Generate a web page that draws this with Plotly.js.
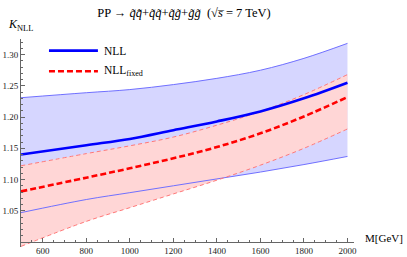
<!DOCTYPE html>
<html>
<head>
<meta charset="utf-8">
<script src="https://cdn.plot.ly/plotly-3.0.1.min.js"></script>
<style>html,body{margin:0;padding:0;background:#fff;}#chart{width:407px;height:257px;}</style>
</head>
<body>
<div id="chart"></div>
<script>
// Invariant mass M [GeV]
var mass = [500, 800, 1000, 1200, 1400, 1600, 1800, 2000];
// K-factor, NLL (central, upper, lower)
var nll   = [1.140, 1.155, 1.165, 1.179, 1.193, 1.209, 1.230, 1.255];
var nllUp = [1.231, 1.239, 1.244, 1.252, 1.262, 1.275, 1.294, 1.318];
var nllLo = [1.047, 1.068, 1.079, 1.090, 1.101, 1.112, 1.124, 1.137];
// K-factor, NLL fixed (central, upper, lower)
var fix   = [1.081, 1.103, 1.118, 1.134, 1.152, 1.174, 1.201, 1.232];
var fixUp = [1.122, 1.1415, 1.154, 1.168, 1.187, 1.209, 1.236, 1.268];
var fixLo = [0.993, 1.033, 1.055, 1.077, 1.099, 1.123, 1.150, 1.181];
var xTicks = [600, 800, 1000, 1200, 1400, 1600, 1800, 2000];
var yTicks = [1.05, 1.10, 1.15, 1.20, 1.25, 1.30];
var yTickText = ['1.05', '1.10', '1.15', '1.20', '1.25', '1.30'];

var serif = '"Times New Roman", "Liberation Serif", "DejaVu Serif", serif';
var blueFill = '#D6D6FF', redFill = '#FFD6D6';

var traces = [
  {x: mass, y: nllLo, mode: 'lines', line: {width: 0, shape: 'spline'}, hoverinfo: 'skip'},
  {x: mass, y: nllUp, mode: 'lines', line: {width: 0, shape: 'spline'}, fill: 'tonexty', fillcolor: blueFill, hoverinfo: 'skip'},
  {x: mass, y: fixLo, mode: 'lines', line: {width: 0, shape: 'spline'}, hoverinfo: 'skip'},
  {x: mass, y: fixUp, mode: 'lines', line: {width: 0, shape: 'spline'}, fill: 'tonexty', fillcolor: redFill, hoverinfo: 'skip'},
  {x: mass, y: nllLo, mode: 'lines', line: {width: 1, color: '#7070FF', shape: 'spline'}},
  {x: mass, y: nllUp, mode: 'lines', line: {width: 1, color: '#7070FF', shape: 'spline'}},
  {x: mass, y: fixLo, mode: 'lines', line: {width: 1, color: '#FF7878', dash: '4px,3px', shape: 'spline'}},
  {x: mass, y: fixUp, mode: 'lines', line: {width: 1, color: '#FF7878', dash: '4px,3px', shape: 'spline'}},
  {x: mass, y: fix, mode: 'lines', line: {width: 2.6, color: '#FF0000', dash: '6px,3px', shape: 'spline'}},
  {x: mass, y: nll, mode: 'lines', line: {width: 2.6, color: '#0000FF', shape: 'spline'}}
];

var layout = {
  width: 407, height: 257,
  margin: {l: 21, r: 53, t: 39, b: 10, pad: 0},
  paper_bgcolor: '#fff', plot_bgcolor: '#fff',
  showlegend: false,
  font: {family: serif, size: 9, color: '#222'},
  title: {
    text: 'PP → <i>q̃q̃̄</i>+<i>q̃q̃</i>+<i>q̃g̃</i>+<i>g̃g̃</i>  (√<i>s̅</i> = 7 TeV)',
    font: {family: serif, size: 12.5, color: '#000'},
    x: 184 / 407, xanchor: 'center', y: 1 - 13 / 257, yanchor: 'middle'
  },
  xaxis: {
    range: [500, 2030], anchor: 'free', position: 0.024,
    showgrid: false, zeroline: false,
    showline: true, linecolor: '#666', linewidth: 1,
    tickmode: 'array', tickvals: xTicks,
    ticks: 'inside', ticklen: 4, tickcolor: '#666', tickwidth: 1,
    minor: {dtick: 50, tick0: 0, ticks: 'inside', ticklen: 2, tickcolor: '#666'},
    tickfont: {family: serif, size: 9, color: '#222'}
  },
  yaxis: {
    range: [0.992, 1.325],
    showgrid: false, zeroline: false,
    showline: true, linecolor: '#666', linewidth: 1,
    tickmode: 'array', tickvals: yTicks, ticktext: yTickText,
    ticks: 'inside', ticklen: 4, tickcolor: '#666', tickwidth: 1,
    minor: {dtick: 0.01, tick0: 0, ticks: 'inside', ticklen: 2, tickcolor: '#666'},
    tickfont: {family: serif, size: 9, color: '#222'}
  },
  shapes: [
    {type: 'line', xref: 'paper', yref: 'paper', x0: 0.084, x1: 0.231, y0: 0.944, y1: 0.944,
     line: {color: '#0000FF', width: 2.6}},
    {type: 'line', xref: 'paper', yref: 'paper', x0: 0.084, x1: 0.231, y0: 0.845, y1: 0.845,
     line: {color: '#FF0000', width: 2.6, dash: '6px,3px'}}
  ],
  annotations: [
    {xref: 'paper', yref: 'paper', x: 0.242, y: 0.944, xanchor: 'left', yanchor: 'middle', showarrow: false,
     text: 'NLL', font: {family: serif, size: 11.5, color: '#000'}},
    {xref: 'paper', yref: 'paper', x: 0.242, y: 0.845, xanchor: 'left', yanchor: 'middle', showarrow: false,
     text: 'NLL<sub>fixed</sub>', font: {family: serif, size: 11.5, color: '#000'}},
    {xref: 'paper', yref: 'paper', x: -0.046, y: 1.067, xanchor: 'left', yanchor: 'middle', showarrow: false,
     text: '<i>K</i><sub>NLL</sub>', font: {family: serif, size: 12, color: '#000'}},
    {xref: 'paper', yref: 'paper', x: 1.027, y: 0.045, xanchor: 'left', yanchor: 'middle', showarrow: false,
     text: 'M[GeV]', font: {family: serif, size: 11, color: '#000'}}
  ]
};

Plotly.newPlot('chart', traces, layout, {displayModeBar: false, staticPlot: true});
</script>
</body>
</html>
